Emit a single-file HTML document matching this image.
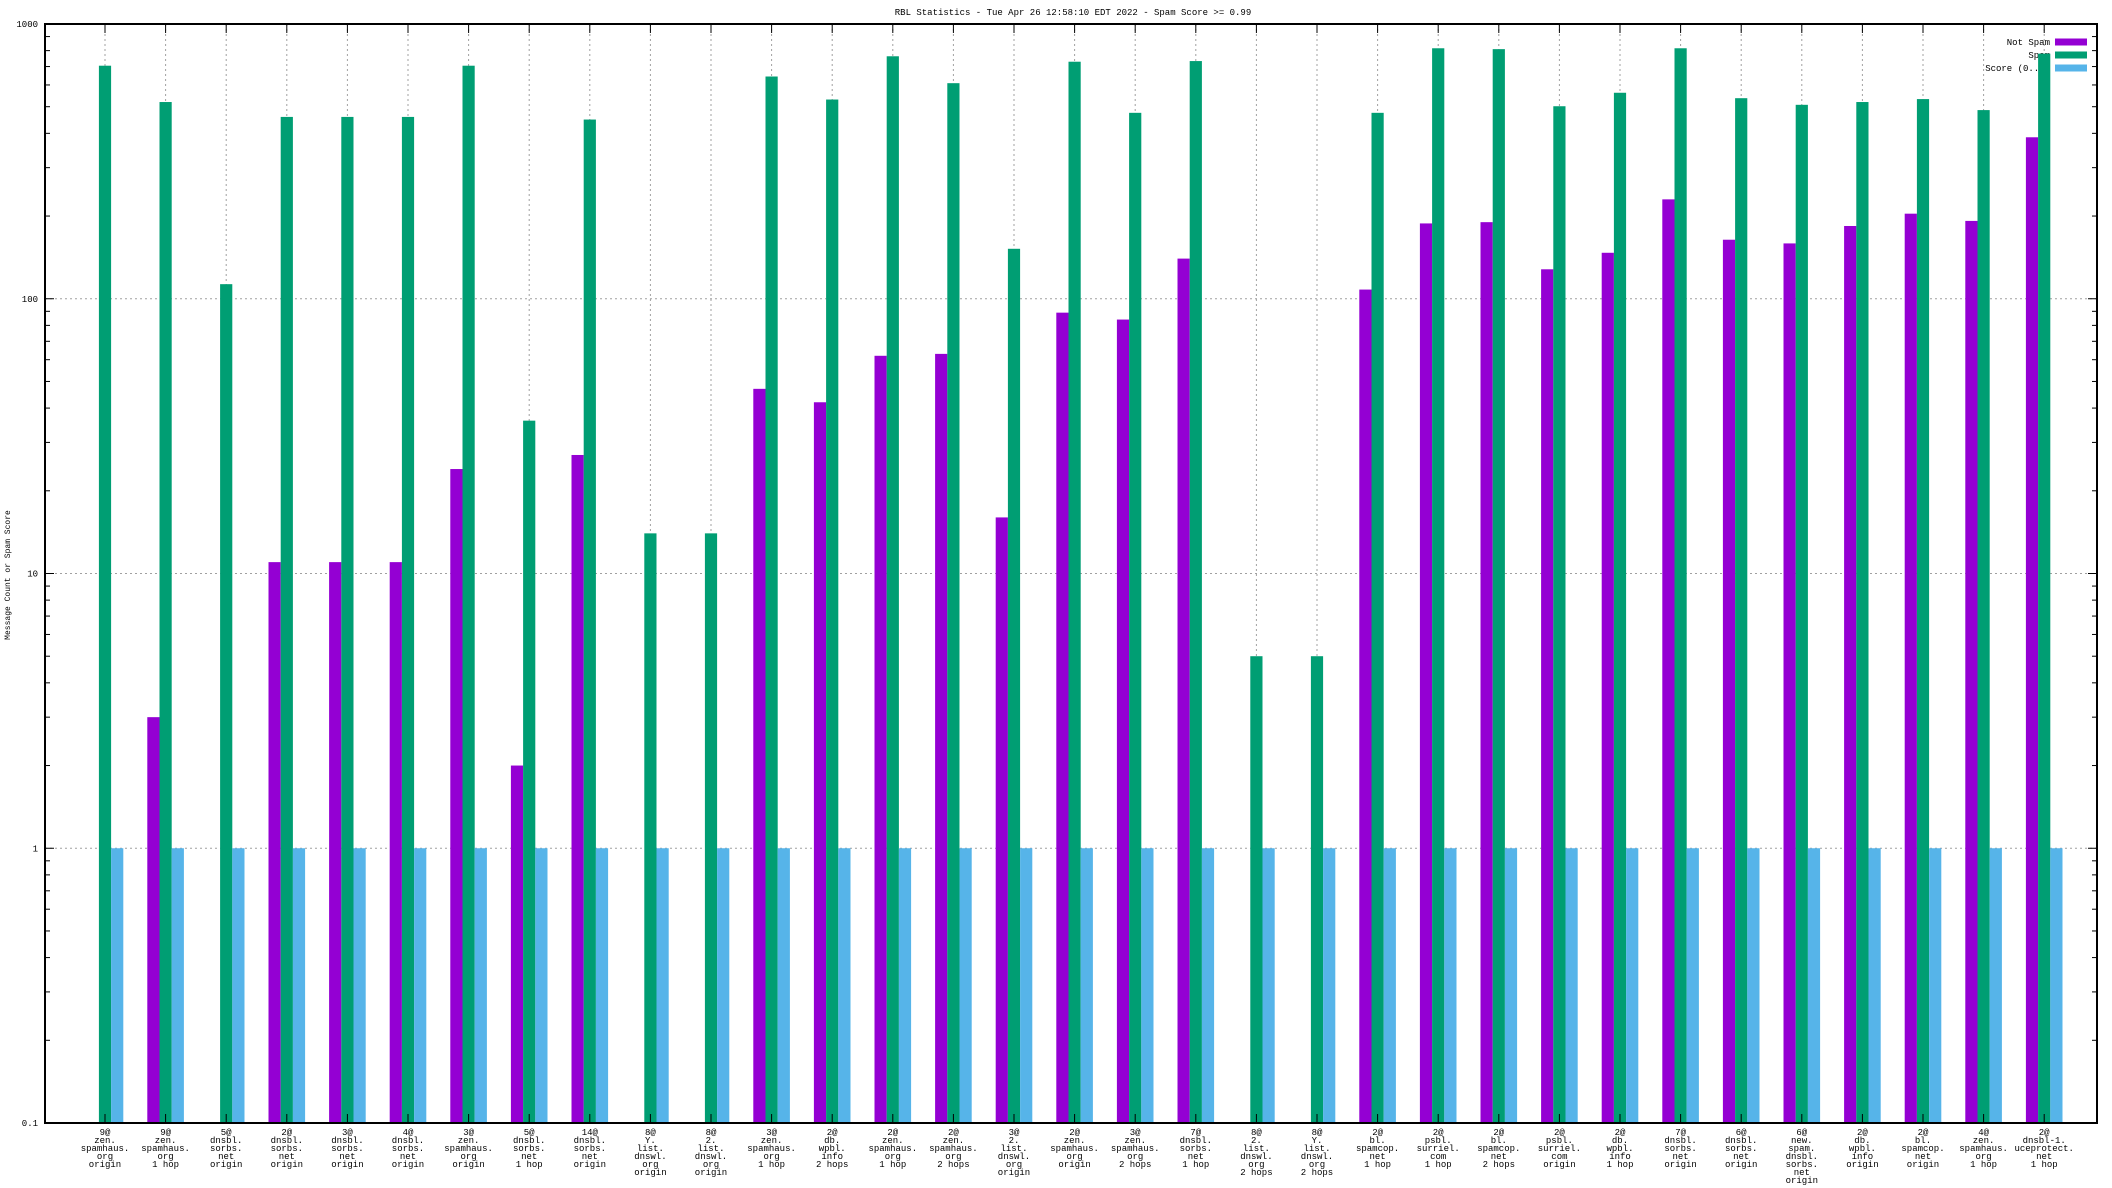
<!DOCTYPE html>
<html><head><meta charset="utf-8"><style>
html,body{margin:0;padding:0;background:#fff;}
svg{display:block;font-family:"Liberation Mono","DejaVu Sans Mono",monospace;}
</style></head><body>
<svg id="chart" width="2112" height="1188" viewBox="0 0 2112 1188" xmlns="http://www.w3.org/2000/svg">
<rect x="0" y="0" width="2112" height="1188" fill="#fff"/>
<text x="1073" y="15" font-size="9" text-anchor="middle">RBL Statistics - Tue Apr 26 12:58:10 EDT 2022 - Spam Score &gt;= 0.99</text>
<text transform="translate(10,575) rotate(-90)" font-size="8" text-anchor="middle">Message Count or Spam Score</text>
<g id="grid"></g><g id="legend"></g><g id="bars"></g><g id="axes"></g><g id="xlabels"></g>
</svg>
<script>
const categories = [
"9@|zen.|spamhaus.|org|origin","9@|zen.|spamhaus.|org|1 hop","5@|dnsbl.|sorbs.|net|origin","2@|dnsbl.|sorbs.|net|origin","3@|dnsbl.|sorbs.|net|origin","4@|dnsbl.|sorbs.|net|origin","3@|zen.|spamhaus.|org|origin","5@|dnsbl.|sorbs.|net|1 hop","14@|dnsbl.|sorbs.|net|origin","8@|Y.|list.|dnswl.|org|origin","8@|2.|list.|dnswl.|org|origin","3@|zen.|spamhaus.|org|1 hop","2@|db.|wpbl.|info|2 hops","2@|zen.|spamhaus.|org|1 hop","2@|zen.|spamhaus.|org|2 hops","3@|2.|list.|dnswl.|org|origin","2@|zen.|spamhaus.|org|origin","3@|zen.|spamhaus.|org|2 hops","7@|dnsbl.|sorbs.|net|1 hop","8@|2.|list.|dnswl.|org|2 hops","8@|Y.|list.|dnswl.|org|2 hops","2@|bl.|spamcop.|net|1 hop","2@|psbl.|surriel.|com|1 hop","2@|bl.|spamcop.|net|2 hops","2@|psbl.|surriel.|com|origin","2@|db.|wpbl.|info|1 hop","7@|dnsbl.|sorbs.|net|origin","6@|dnsbl.|sorbs.|net|origin","6@|new.|spam.|dnsbl.|sorbs.|net|origin","2@|db.|wpbl.|info|origin","2@|bl.|spamcop.|net|origin","4@|zen.|spamhaus.|org|1 hop","2@|dnsbl-1.|uceprotect.|net|1 hop"];
const notSpam = [null,3,null,11,11,11,24,2,27,null,null,47,42,62,63,16,89,84,140,null,null,108,188,190,128,147,230,164,159,184,204,192,387];
const spam = [705,520,113,459,459,459,705,36,449,14,14,644,531,763,609,152,729,475,733,5,5,475,816,810,502,562,816,537,508,520,533,486,780];
const score = [1,1,1,1,1,1,1,1,1,1,1,1,1,1,1,1,1,1,1,1,1,1,1,1,1,1,1,1,1,1,1,1,1];
const yTickLabels = ["0.1","1","10","100","1000"];
const yTickValues = [0.1,1,10,100,1000];

const NS="http://www.w3.org/2000/svg";
const L=45,R=2097,T=24,B=1123;
const yMin=Math.log10(0.1),yMax=Math.log10(1000);
function y(v){return B-(Math.log10(v)-yMin)/(yMax-yMin)*(B-T);}
function x(i){return 105+i*60.6;}
function mk(tag,attrs,parent){const e=document.createElementNS(NS,tag);for(const k in attrs)e.setAttribute(k,attrs[k]);parent.appendChild(e);return e;}
const grid=document.getElementById('grid'),axes=document.getElementById('axes'),bars=document.getElementById('bars'),xl=document.getElementById('xlabels'),leg=document.getElementById('legend');
// horizontal grid + y ticks
yTickValues.forEach((v,k)=>{
  const yy=y(v);
  if(k>0&&k<yTickValues.length-1){const g=mk('line',{x1:L,x2:R,y1:yy,y2:yy,stroke:'#a0a0a0','stroke-dasharray':'2,3','stroke-width':1},grid);
  
  }
  const t=mk('text',{x:L-7,y:yy+3,'font-size':9,'text-anchor':'end'},axes);t.textContent=yTickLabels[k];
  
  
  mk('line',{x1:L,x2:L+9,y1:yy,y2:yy,stroke:'#000'},axes);
  mk('line',{x1:R,x2:R-9,y1:yy,y2:yy,stroke:'#000'},axes);
  if(k<yTickValues.length-1){for(let m=2;m<10;m++){const my=y(v*m);
    mk('line',{x1:L,x2:L+5,y1:my,y2:my,stroke:'#000'},axes);
    mk('line',{x1:R,x2:R-5,y1:my,y2:my,stroke:'#000'},axes);}}
});
// vertical grid + x labels
categories.forEach((c,i)=>{
  const xx=x(i);
  const g=mk('line',{x1:xx,x2:xx,y1:T,y2:B,stroke:'#a0a0a0','stroke-dasharray':'2,3','stroke-width':1},grid);
  
  
  mk('line',{x1:xx,x2:xx,y1:B,y2:B-9,stroke:'#000'},axes);
  mk('line',{x1:xx,x2:xx,y1:T,y2:T+9,stroke:'#000'},axes);
  const t=mk('text',{x:xx,y:B+12,'font-size':9,'text-anchor':'middle'},xl);
  
  
  c.split('|').forEach((s,j)=>{const ts=mk('tspan',{x:xx,dy:j?8:0},t);ts.textContent=s;});
});
// legend
const legItems=[["Not Spam","#9400d3"],["Spam","#009e73"],["Score (0..1)","#56b4e9"]];
legItems.forEach((it,k)=>{
  const yy=42+k*13;
  const t=mk('text',{x:2050,y:yy+3,'font-size':9,'text-anchor':'end'},leg);t.textContent=it[0];
  
  
  const r=mk('rect',{x:2055,y:yy-3.5,width:32,height:7,fill:it[1]},leg);
  
  
});
// bars
const series=[[notSpam,"#9400d3",-1,'bar-not-spam'],[spam,"#009e73",0,'bar-spam'],[score,"#56b4e9",1,'bar-score']];
const bw=12.2;
series.forEach(s=>{
  s[0].forEach((v,i)=>{
    if(v==null||v<=0)return;
    const cx=x(i)+s[2]*bw;
    const top=y(v);
    const r=mk('rect',{x:cx-bw/2,y:top,width:bw,height:B-top,fill:s[1]},bars);
    
    
  });
});
// frame
const f=mk('rect',{x:L,y:T,width:R-L,height:B-T,fill:'none',stroke:'#000','stroke-width':2},axes);


</script>
</body></html>
